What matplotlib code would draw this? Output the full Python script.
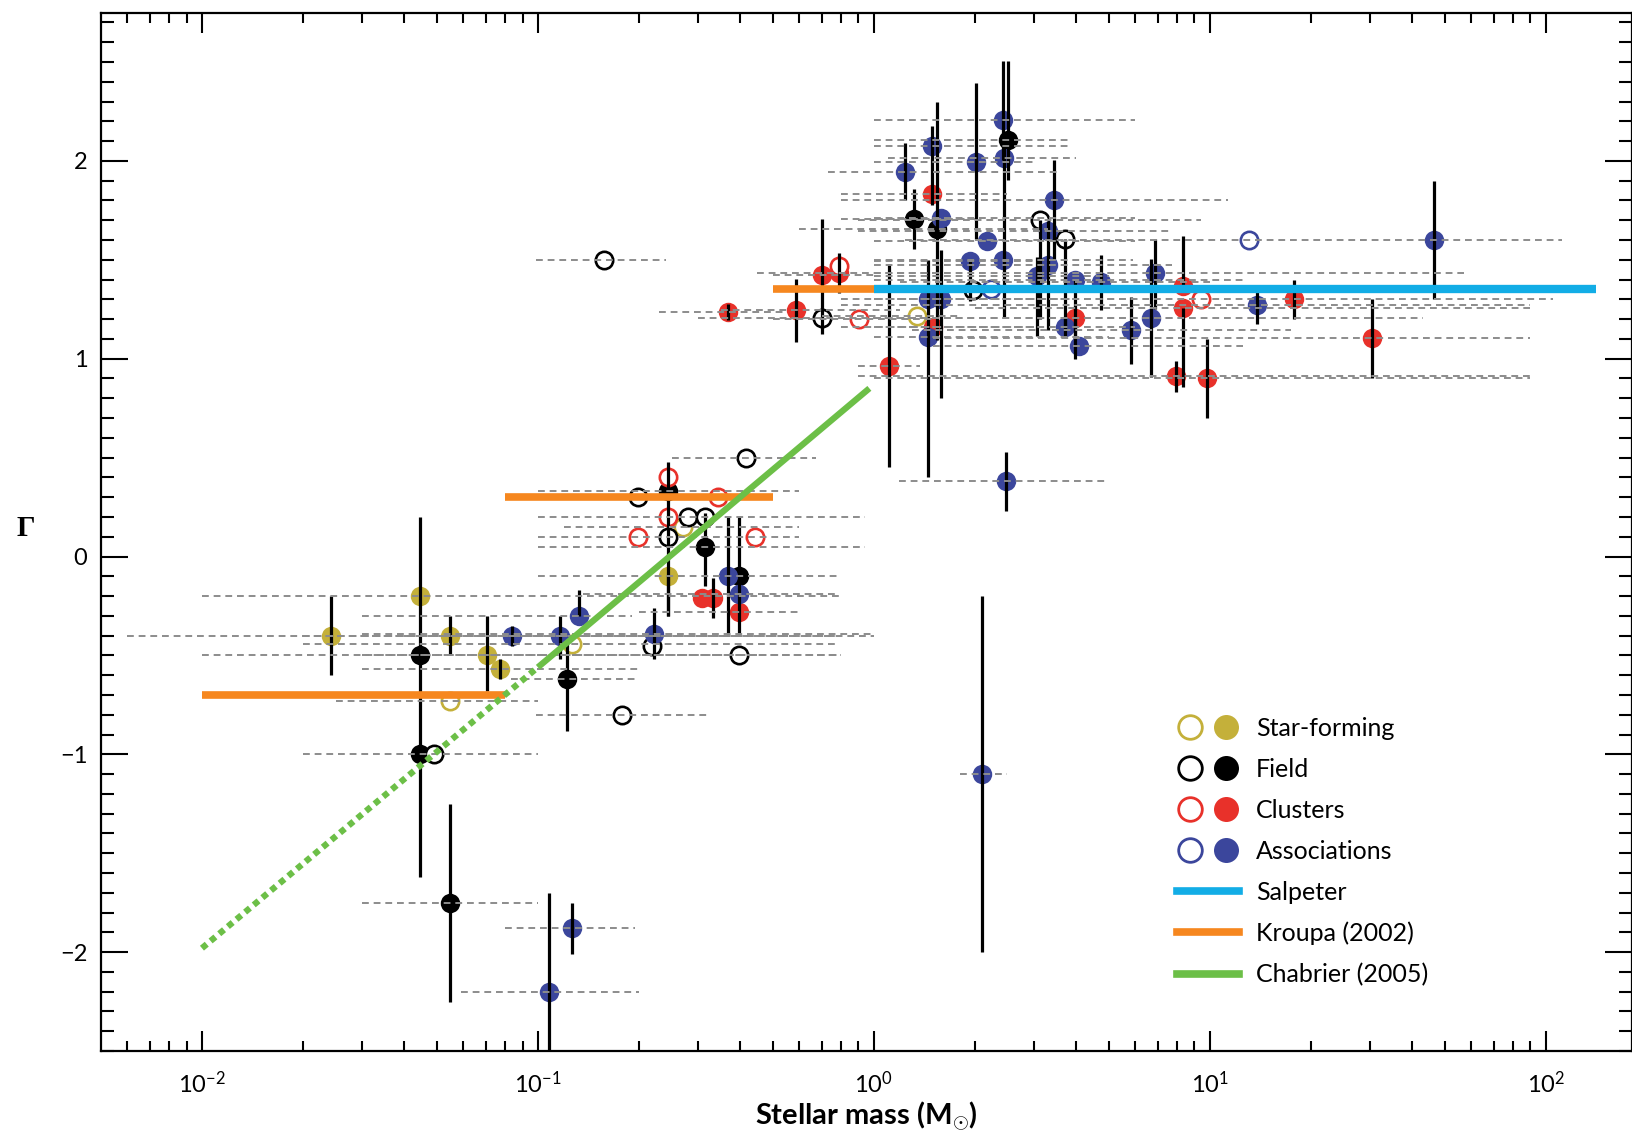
import numpy as np
import matplotlib
matplotlib.use('Agg')
import matplotlib.pyplot as plt
from matplotlib.lines import Line2D
from matplotlib.legend_handler import HandlerTuple
from matplotlib.ticker import LogLocator, MultipleLocator

plt.rcParams['font.family'] = ['Lato', 'DejaVu Sans']
plt.rcParams['mathtext.fontset'] = 'custom'
plt.rcParams['mathtext.rm'] = 'Lato'
plt.rcParams['mathtext.it'] = 'Lato:italic'
plt.rcParams['mathtext.bf'] = 'Lato:bold'

#%% Datos
# grupo: S = star-forming, F = field, C = clusters, A = associations
grupo = ['S', 'S', 'F', 'F', 'F', 'S', 'S', 'S', 'S', 'A', 'A', 'S', 'A', 'F', 'F',
         'F', 'C', 'F', 'C', 'F', 'C', 'F', 'F', 'S', 'C', 'F', 'C', 'F', 'S', 'A',
         'F', 'A', 'C', 'C', 'C', 'A', 'F', 'F',
         'F', 'C', 'C', 'F', 'C', 'C', 'C', 'C', 'C', 'S', 'A', 'F', 'A', 'C', 'A',
         'F', 'A', 'A', 'A', 'A', 'A', 'F', 'A', 'A', 'A', 'A', 'F', 'A', 'A', 'F',
         'A', 'F', 'A', 'A', 'A', 'A', 'C', 'A', 'A', 'A', 'A', 'A', 'C', 'C', 'C',
         'C', 'C', 'A', 'A', 'A', 'C', 'C', 'A', 'A', 'F', 'A', 'A', 'C']
relleno = [1, 1, 1, 1, 0, 1, 0, 1, 1, 1, 1, 0, 1, 1, 0,
           0, 0, 1, 0, 0, 0, 0, 0, 0, 0, 0, 0, 1, 1, 1,
           1, 1, 1, 1, 1, 1, 0, 0,
           0, 1, 1, 0, 1, 1, 0, 0, 1, 0, 1, 1, 1, 1, 1,
           1, 1, 1, 1, 1, 1, 1, 1, 1, 1, 1, 0, 0, 1, 0,
           1, 0, 1, 1, 1, 1, 1, 1, 1, 1, 1, 1, 1, 1, 0,
           1, 1, 0, 1, 1, 1, 1, 1, 1, 1, 1, 1, 1]
masa = [0.0243, 0.0446, 0.0446, 0.0446, 0.049, 0.0546, 0.0546, 0.0705, 0.077, 0.0836,
        0.116, 0.126, 0.133, 0.122, 0.178,
        0.416, 0.244, 0.244, 0.244, 0.199, 0.344, 0.280, 0.314, 0.270, 0.199,
        0.244, 0.442, 0.314, 0.244, 0.368, 0.397, 0.397, 0.397, 0.307, 0.333,
        0.221, 0.218, 0.397,
        0.157, 0.368, 0.587, 0.703, 0.703, 0.787, 0.787, 0.904, 1.11, 1.34,
        1.24, 1.32, 1.49, 1.49, 1.59, 1.54, 1.45, 1.58, 1.45, 2.01, 2.43,
        2.51, 2.44, 2.17, 1.93, 2.43, 1.98, 2.24, 3.45, 3.13, 3.30, 3.72,
        3.30, 3.05, 3.98, 4.75, 3.98, 3.70, 4.07, 5.84, 6.70, 6.89, 8.30,
        8.30, 9.43, 7.94, 9.80, 13.1, 46.6, 13.8, 17.8, 30.4, 2.48, 2.10,
        0.0546, 0.126, 0.108, 1.50]
gamma = [-0.40, -0.20, -0.50, -1.00, -1.00, -0.40, -0.73, -0.50, -0.57, -0.40,
         -0.40, -0.44, -0.30, -0.62, -0.80,
         0.50, 0.40, 0.33, 0.20, 0.30, 0.30, 0.20, 0.20, 0.15, 0.10,
         0.10, 0.10, 0.05, -0.10, -0.10, -0.10, -0.19, -0.28, -0.21, -0.21,
         -0.39, -0.45, -0.50,
         1.50, 1.234, 1.244, 1.206, 1.425, 1.433, 1.467, 1.20, 0.961, 1.214,
         1.942, 1.706, 2.077, 1.834, 1.711, 1.656, 1.30, 1.30, 1.11, 1.993, 2.205,
         2.104, 2.015, 1.593, 1.492, 1.50, 1.349, 1.352, 1.804, 1.703, 1.644, 1.605,
         1.475, 1.416, 1.396, 1.386, 1.206, 1.16, 1.062, 1.143, 1.205, 1.433, 1.369,
         1.256, 1.30, 0.91, 0.902, 1.60, 1.60, 1.273, 1.30, 1.104, 0.38, -1.10,
         -1.75, -1.88, -2.20, 1.16]
err_inf = [0.20, 0, 0.50, 0.62, 0, 0.10, 0, 0.18, 0.05, 0.05, 0.12, 0, 0, 0.26, 0,
           0, 0, 0.63, 0, 0, 0, 0, 0, 0, 0, 0, 0, 0.20, 0.20, 0.30,
           0.30, 0, 0, 0, 0.10, 0.13, 0, 0,
           0, 0.04, 0.16, 0, 0.30, 0.10, 0, 0, 0.51, 0, 0.14, 0.15, 0.30, 0, 0,
           0.56, 0.90, 0.50, 0, 0.39, 0.20, 0.20, 0.81, 0, 0.20, 0, 0, 0, 0.30, 0.50,
           0.50, 0.45, 0, 0.30, 0.40, 0.14, 0.10, 0.05, 0, 0.17, 0.30, 0.18, 0,
           0.40, 0, 0.08, 0.20, 0, 0.30, 0.10, 0.10, 0.20, 0.15, 0.90,
           0.50, 0.13, 0.40, 0]
err_sup = [0.20, 0, 0.70, 0, 0, 0.10, 0, 0.20, 0.05, 0.05, 0.10, 0, 0.13, 0.20, 0,
           0, 0, 0.15, 0, 0, 0, 0, 0, 0, 0, 0, 0, 0.17, 0, 0.30,
           0.30, 0, 0, 0, 0.10, 0.13, 0, 0,
           0, 0.04, 0.16, 0, 0.28, 0.10, 0, 0, 0.52, 0, 0.15, 0.15, 0.10, 0, 0,
           0.64, 0.20, 0.25, 0, 0.40, 0.30, 0.40, 0.10, 0, 0, 0, 0, 0, 0.20, 0,
           0.05, 0, 0, 0.10, 0, 0.14, 0, 0.05, 0, 0.17, 0.30, 0.17, 0.25,
           0, 0, 0.08, 0.20, 0, 0.30, 0.10, 0.10, 0.20, 0.15, 0.90,
           0.50, 0.13, 0.50, 0]
# rango de masas de cada muestra (nan = sin rango)
nan = np.nan
masa_min = [0.006, 0.010, 0.010, 0.020, nan, 0.020, 0.025, 0.030, 0.030, 0.030,
            0.040, 0.020, 0.030, 0.083, 0.099,
            0.25, nan, 0.10, 0.10, nan, nan, nan, nan, 0.12, 0.10,
            nan, nan, 0.10, 0.10, nan, nan, 0.136, 0.20, nan, nan,
            0.030, nan, 0.10,
            0.099, 0.23, 0.35, 0.30, 0.50, 0.45, nan, 0.50, 0.90, 0.70,
            0.73, 0.80, 1.00, 0.80, 1.00, 0.60, 0.80, 1.00, 1.00, 1.00, 1.00,
            1.00, 1.10, 1.00, 1.00, 1.00, nan, nan, 0.80, 0.90, 0.90, nan,
            1.00, 1.00, 1.00, 1.20, 1.00, 1.00, 1.50, 1.30, 1.00, 1.00, 1.00,
            2.00, nan, 0.90, 1.00, nan, 1.24, 0.80, 1.00, 1.50, 1.19, 1.80,
            0.030, 0.080, 0.059, 0.80]
masa_max = [0.30, 0.80, 0.45, 0.10, nan, 0.80, 0.10, 0.80, 0.20, 0.45,
            1.00, 0.79, 0.19, 0.20, 0.32,
            0.675, nan, 0.60, 0.94, nan, nan, nan, nan, 0.60, 0.60,
            nan, nan, 0.94, 0.78, nan, nan, 0.79, 0.60, nan, nan,
            1.00, nan, 0.79,
            0.24, 0.55, 1.20, 1.40, 1.00, 1.50, nan, 1.50, 1.37, 1.80,
            3.50, 2.00, 3.90, 2.50, 6.00, 3.30, 4.00, 6.00, 5.00, 3.00, 6.00,
            3.90, 4.00, 6.00, 3.00, 5.90, nan, nan, 11.3, 9.4, 7.7, nan,
            7.7, 5.0, 12.6, 10.0, 8.0, 6.0, 12.6, 17.5, 43.0, 57.0, 12.6,
            90.0, nan, 92.0, 90.0, nan, 112.0, 90.0, 105.0, 90.0, 4.98, 2.50,
            0.10, 0.195, 0.20, 3.00]

# Modelos
salpeter_m = [1.0, 141.0]
salpeter_g = [1.35, 1.35]
kroupa_m = [[0.01, 0.08], [0.08, 0.5], [0.5, 1.0]]
kroupa_g = [-0.70, 0.30, 1.35]
chabrier_m = [0.01, 0.1, 0.97]
chabrier_g = [-1.98, -0.56, 0.85]

colores = {'S': '#c4b03a', 'F': 'black', 'C': '#e8312a', 'A': '#3b469c'}
nombres = {'S': 'Star-forming', 'F': 'Field', 'C': 'Clusters', 'A': 'Associations'}

masa = np.array(masa)
gamma = np.array(gamma)
err_inf = np.array(err_inf)
err_sup = np.array(err_sup)
masa_min = np.array(masa_min)
masa_max = np.array(masa_max)
grupo = np.array(grupo)
relleno = np.array(relleno)

#%% Grafico
fig = plt.figure(figsize=(16.32, 11.37), dpi=100)
ax = fig.add_axes([0.062, 0.0756, 0.938, 0.9134])

# Rangos de masa (lineas punteadas grises)
for i in range(len(masa)):
    if not np.isnan(masa_min[i]):
        ax.plot([masa_min[i], masa_max[i]], [gamma[i], gamma[i]], color='#8c8c8c',
                lw=1.4, ls=(0, (3.5, 2.5)), zorder=5)

# Barras de error
con_err = (err_inf > 0) | (err_sup > 0)
ax.vlines(masa[con_err], gamma[con_err] - err_inf[con_err], gamma[con_err] + err_sup[con_err],
          colors='black', lw=2.3, zorder=4)

# Puntos
for g in ['S', 'F', 'C', 'A']:
    c = colores[g]
    m = (grupo == g) & (relleno == 1)
    ax.plot(masa[m], gamma[m], 'o', ms=14, mfc=c, mec=c, mew=0, zorder=3)
    m = (grupo == g) & (relleno == 0)
    ax.plot(masa[m], gamma[m], 'o', ms=12.5, mfc='white', mec=c, mew=1.9, zorder=3)

# Lineas de los modelos
ax.plot(salpeter_m, salpeter_g, color='#12ade6', lw=6, solid_capstyle='butt', zorder=6)
for mm, gg in zip(kroupa_m, kroupa_g):
    ax.plot(mm, [gg, gg], color='#f6871f', lw=5.5, solid_capstyle='butt', zorder=6)
ax.plot(chabrier_m[:2], chabrier_g[:2], color='#6cbf47', lw=4.5, ls=(0, (1.0, 0.8)), zorder=6)
ax.plot(chabrier_m[1:], chabrier_g[1:], color='#6cbf47', lw=4.5, solid_capstyle='butt', zorder=6)

# Ejes
ax.set_xscale('log')
ax.set_xlim(10**-2.30, 10**2.257)
ax.set_ylim(-2.5, 2.75)
ax.xaxis.set_major_locator(LogLocator(base=10, numticks=12))
ax.xaxis.set_minor_locator(LogLocator(base=10, subs=np.arange(2, 10), numticks=12))
ax.set_yticks([-2, -1, 0, 1, 2])
ax.yaxis.set_minor_locator(MultipleLocator(0.1))
ax.tick_params(which='both', direction='in', top=True, right=True, width=1.5, labelsize=17)
ax.tick_params(axis='x', which='major', length=14.4, pad=14)
ax.tick_params(axis='x', which='minor', length=7.2)
ax.tick_params(axis='y', which='major', length=19.5, pad=10)
ax.tick_params(axis='y', which='minor', length=9.5)
for s in ax.spines.values():
    s.set_linewidth(1.6)

ax.set_xlabel('Stellar mass (M$_{\\odot}$)', fontsize=21, fontweight='bold', labelpad=2)
fig.text(0.016, 0.535, 'Γ', fontsize=21, fontweight='bold',
         family=['Liberation Serif', 'DejaVu Serif'], ha='center', va='center')

# Leyenda
handles = []
labels = []
for g in ['S', 'F', 'C', 'A']:
    c = colores[g]
    abierto = Line2D([], [], marker='o', ls='none', ms=17, mfc='white', mec=c, mew=2)
    lleno = Line2D([], [], marker='o', ls='none', ms=18, mfc=c, mec=c, mew=0)
    handles.append((abierto, lleno))
    labels.append(nombres[g])
handles.append(Line2D([], [], color='#12ade6', lw=5.5))
labels.append('Salpeter')
handles.append(Line2D([], [], color='#f6871f', lw=5.5))
labels.append('Kroupa (2002)')
handles.append(Line2D([], [], color='#6cbf47', lw=5.5))
labels.append('Chabrier (2005)')
ax.legend(handles, labels, handler_map={tuple: HandlerTuple(ndivide=None, pad=0.45)},
          loc='upper left', bbox_to_anchor=(0.703, 0.322), frameon=False, fontsize=18,
          handlelength=2.45, handletextpad=0.7, labelspacing=0.72, borderpad=0,
          borderaxespad=0)

fig.savefig('out.png', dpi=100)
